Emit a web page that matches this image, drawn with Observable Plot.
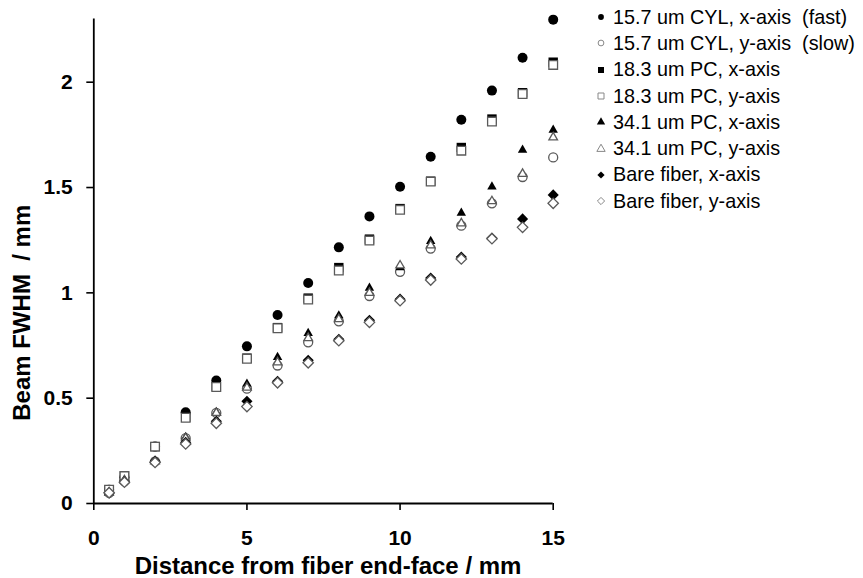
<!DOCTYPE html>
<html><head><meta charset="utf-8">
<script src="https://cdn.jsdelivr.net/npm/d3@7"></script>
<script src="https://cdn.jsdelivr.net/npm/@observablehq/plot@0.6"></script>
<style>
body{margin:0;background:#fff;}
#wrap{position:relative;width:863px;height:578px;font-family:"Liberation Sans",Arial,sans-serif;}
#legend{position:absolute;left:590px;top:4px;}
.row{height:26.3px;display:flex;align-items:center;font-size:19.8px;color:#000;white-space:pre;}
.row svg{flex:none;}
#wrap svg text{font-family:"Liberation Sans",Arial,sans-serif;}
</style></head><body><div id="wrap"><div id="legend"></div></div>
<script>
// x values: distance from fiber end-face (mm)
const distance = [0.5, 1, 2, 3, 4, 5, 6, 7, 8, 9, 10, 11, 12, 13, 14, 15];
// Beam FWHM (mm)
const cylX  = [0.065, 0.125, 0.27, 0.433, 0.584, 0.746, 0.895, 1.047, 1.216, 1.363, 1.504, 1.646, 1.822, 1.96, 2.116, 2.297];
const cylY  = [0.05, 0.105, 0.2, 0.31, 0.43, 0.545, 0.655, 0.765, 0.865, 0.985, 1.10, 1.21, 1.319, 1.425, 1.55, 1.643];
const pc18X = [0.065, 0.13, 0.27, 0.41, 0.555, 0.69, 0.835, 0.975, 1.12, 1.255, 1.40, 1.53, 1.69, 1.825, 1.95, 2.095];
const pc18Y = [0.065, 0.13, 0.27, 0.407, 0.553, 0.687, 0.832, 0.968, 1.106, 1.248, 1.394, 1.528, 1.675, 1.813, 1.944, 2.082];
const pc34X = [0.055, 0.11, 0.2, 0.315, 0.433, 0.568, 0.694, 0.808, 0.892, 1.023, 1.12, 1.245, 1.379, 1.504, 1.678, 1.773];
const pc34Y = [0.05, 0.11, 0.2, 0.31, 0.43, 0.55, 0.67, 0.785, 0.875, 1.0, 1.13, 1.225, 1.33, 1.435, 1.565, 1.738];
const bareX = [0.05, 0.105, 0.2, 0.29, 0.39, 0.485, 0.58, 0.68, 0.78, 0.87, 0.97, 1.07, 1.17, 1.26, 1.351, 1.465];
const bareY = [0.051, 0.101, 0.195, 0.283, 0.381, 0.46, 0.573, 0.668, 0.773, 0.86, 0.963, 1.061, 1.161, 1.257, 1.311, 1.425];

const seriesNames = [
  "15.7 um CYL, x-axis  (fast)",
  "15.7 um CYL, y-axis  (slow)",
  "18.3 um PC, x-axis",
  "18.3 um PC, y-axis",
  "34.1 um PC, x-axis",
  "34.1 um PC, y-axis",
  "Bare fiber, x-axis",
  "Bare fiber, y-axis"
];
const seriesValues = [cylX, cylY, pc18X, pc18Y, pc34X, pc34Y, bareX, bareY];
const seriesSymbols = ["circle", "circle", "square", "square", "triangle", "triangle", "diamond2", "diamond2"];
const seriesFilled = [true, false, true, false, true, false, true, false];

const yTicks = [0, 0.5, 1, 1.5, 2];
const xTicks = [0, 5, 10, 15];
const xTitle = "Distance from fiber end-face / mm";
const yTitle = "Beam FWHM\u00a0\u00a0/ mm";

const rFilled = {circle: 5, square: 5.3, triangle: 3.5, diamond2: 5};
const rOpen = {circle: 4.5, square: 4.9, triangle: 3.2, diamond2: 4.7};
const grey = "#5a5a5a";

const dotMarks = seriesValues.map((vals, i) => {
  const data = distance.map((d, j) => ({x: d, y: vals[j]}));
  const sym = seriesSymbols[i];
  return seriesFilled[i]
    ? Plot.dot(data, {x: "x", y: "y", symbol: sym, r: rFilled[sym], fill: "#000", stroke: "none"})
    : Plot.dot(data, {x: "x", y: "y", symbol: sym, r: rOpen[sym], fill: "#fff", stroke: grey, strokeWidth: 1.3});
});

const chart = Plot.plot({
  width: 863,
  height: 578,
  marginLeft: 93.3,
  marginRight: 310.3,
  marginTop: 18.5,
  marginBottom: 75,
  style: {background: "#fff", color: "#000", fontFamily: "'Liberation Sans', Arial, sans-serif"},
  x: {domain: [0, 15]},
  y: {domain: [0, 2.3]},
  marks: [
    ...dotMarks,
    Plot.ruleY([0], {stroke: "#000", strokeWidth: 1.8}),
    Plot.ruleX([0], {stroke: "#000", strokeWidth: 1.8}),
    Plot.axisX({ticks: xTicks, tickSize: 7, tickPadding: 20, tickFormat: d => String(d), fontSize: 21, fontWeight: "bold", strokeWidth: 1.6, label: null}),
    Plot.axisY({ticks: yTicks, tickSize: 7, tickPadding: 14, tickFormat: d => String(d), fontSize: 21, fontWeight: "bold", strokeWidth: 1.6, label: null}),
    Plot.text([xTitle], {text: d => d, frameAnchor: "bottom", dx: 4.5, dy: 62.5, lineAnchor: "middle", fontSize: 24, fontWeight: "bold", fill: "#000"}),
    Plot.text([yTitle], {text: d => d, frameAnchor: "left", rotate: -90, dx: -71.3, dy: 51.5, lineAnchor: "middle", textAnchor: "middle", fontSize: 24, fontWeight: "bold", fill: "#000"})
  ]
});
document.getElementById("wrap").prepend(chart);

// legend
const legend = d3.select("#legend");
const legendSize = {circle: 26, square: 36, triangle: 30, diamond2: 33};
const symMap = {circle: d3.symbolCircle, square: d3.symbolSquare, triangle: d3.symbolTriangle, diamond2: d3.symbolDiamond2};
seriesNames.forEach((name, i) => {
  const row = legend.append("div").attr("class", "row");
  const svg = row.append("svg").attr("width", 23).attr("height", 26);
  const sym = seriesSymbols[i];
  svg.append("path")
    .attr("transform", "translate(11,13)")
    .attr("d", d3.symbol(symMap[sym], legendSize[sym])())
    .attr("fill", seriesFilled[i] ? "#000" : "#fff")
    .attr("stroke", seriesFilled[i] ? "none" : "#888")
    .attr("stroke-width", 1);
  row.append("span").text(name);
});
</script>
</body></html>
